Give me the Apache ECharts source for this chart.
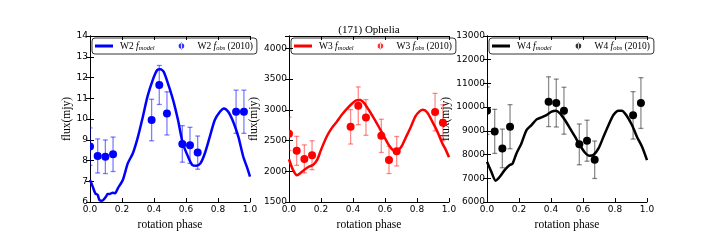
<!DOCTYPE html>
<html>
<head>
<meta charset="utf-8">
<script src="https://cdn.jsdelivr.net/npm/echarts@6/dist/echarts.min.js"></script>
<style>html,body{margin:0;padding:0;background:#fff}#c{width:720px;height:240px}</style>
</head>
<body>
<div id="c"></div>
<script>
// ---- data ----
const obsPhase = [0.0, 0.048, 0.096, 0.144, 0.385, 0.433, 0.481, 0.577, 0.625, 0.673, 0.913, 0.962];
const w2Obs = [8.67, 8.22, 8.18, 8.30, 9.95, 11.64, 10.27, 8.80, 8.73, 8.38, 10.35, 10.35];
const w2Err = [0.90, 0.82, 0.81, 0.83, 1.00, 0.94, 1.04, 0.88, 0.87, 0.80, 1.04, 1.04];
const w3Obs = [2609, 2332, 2201, 2261, 2723, 3065, 2875, 2576, 2185, 2326, 2962, 2788];
const w3Err = [270, 236, 228, 235, 280, 307, 290, 270, 222, 240, 305, 293];
const w4Obs = [9850, 8978, 8260, 9175, 10230, 10173, 9850, 8430, 8584, 7782, 9653, 10173];
const w4Err = [1000, 930, 815, 930, 1050, 1010, 990, 860, 865, 790, 1000, 1070];

const w2ModelX = [0, 0.017, 0.033, 0.048, 0.059, 0.075, 0.1, 0.11, 0.125, 0.142, 0.157, 0.174, 0.205, 0.236, 0.268, 0.3, 0.33, 0.36, 0.393, 0.42, 0.44, 0.46, 0.487, 0.52, 0.55, 0.58, 0.613, 0.64, 0.665, 0.69, 0.718, 0.749, 0.78, 0.812, 0.837, 0.864, 0.895, 0.927, 0.958, 0.98, 1.0];
const w2ModelY = [7.06, 6.74, 6.42, 6.34, 6.10, 6.06, 6.26, 6.39, 6.39, 6.45, 6.42, 6.66, 7.06, 7.86, 8.35, 9.15, 10.1, 11.1, 11.9, 12.36, 12.4, 12.28, 11.72, 10.9, 9.95, 8.83, 8.18, 7.78, 7.75, 7.86, 8.35, 9.15, 9.95, 10.35, 10.51, 10.35, 9.87, 9.15, 8.18, 7.7, 7.22];

const w3ModelX = [0, 0.025, 0.05, 0.075, 0.1, 0.125, 0.15, 0.176, 0.2, 0.236, 0.267, 0.3, 0.33, 0.36, 0.393, 0.42, 0.445, 0.47, 0.498, 0.53, 0.56, 0.592, 0.623, 0.648, 0.676, 0.703, 0.728, 0.76, 0.79, 0.816, 0.837, 0.864, 0.895, 0.927, 0.958, 0.98, 1.0];
const w3ModelY = [2195, 2022, 1935, 1978, 2033, 2076, 2103, 2185, 2348, 2565, 2701, 2810, 2918, 3010, 3098, 3152, 3160, 3109, 3000, 2864, 2728, 2576, 2429, 2348, 2337, 2402, 2538, 2712, 2891, 2973, 3000, 2957, 2810, 2647, 2457, 2348, 2228];

const w4ModelX = [0, 0.027, 0.054, 0.08, 0.11, 0.142, 0.16, 0.184, 0.215, 0.247, 0.278, 0.31, 0.34, 0.372, 0.404, 0.43, 0.456, 0.487, 0.519, 0.55, 0.58, 0.613, 0.64, 0.665, 0.697, 0.728, 0.76, 0.79, 0.822, 0.843, 0.87, 0.906, 0.937, 0.969, 1.0];
const w4ModelY = [7698, 7276, 6900, 7065, 7346, 7557, 7620, 8049, 8471, 9034, 9245, 9484, 9568, 9667, 9807, 9850, 9737, 9456, 9104, 8752, 8401, 8077, 7950, 7979, 8260, 8752, 9245, 9667, 9850, 9850, 9667, 9245, 8752, 8330, 7768];

const xTicks = [0.0, 0.2, 0.4, 0.6, 0.8, 1.0];
const w2YTicks = [6, 14, 1];
const w3YTicks = [1500, 4200, 500];
const w4YTicks = [6000, 13000, 1000];
const title = '(171) Ophelia';

// ---- chart ----
const zip = (a, b) => a.map((v, i) => [v, b[i]]);
const zip3 = (a, b, c) => a.map((v, i) => [v, b[i], c[i]]);
const SERIF = '"Liberation Serif", "DejaVu Serif", serif';
const SANS = '"DejaVu Sans", sans-serif';

const panels = [
  {band: 'W2', color: '#0000ff', bar: 'rgba(0,0,255,0.5)', mx: w2ModelX, my: w2ModelY, obs: w2Obs, err: w2Err, yt: w2YTicks, left: 90, nameGap: 16},
  {band: 'W3', color: '#ff0000', bar: 'rgba(255,0,0,0.45)', mx: w3ModelX, my: w3ModelY, obs: w3Obs, err: w3Err, yt: w3YTicks, left: 289, nameGap: 10},
  {band: 'W4', color: '#000000', bar: 'rgba(0,0,0,0.45)', mx: w4ModelX, my: w4ModelY, obs: w4Obs, err: w4Err, yt: w4YTicks, left: 487, nameGap: 28}
];

const grids = [], xAxes = [], yAxes = [], series = [], legends = [];
const tickStyle = {show: true, inside: true, length: 4, lineStyle: {color: '#000', width: 1}};
const lineStyle = {show: true, lineStyle: {color: '#000', width: 1}};
const legendRich = {
  t: {fontFamily: SERIF, fontSize: 9.5, color: '#000'},
  i: {fontFamily: SERIF, fontSize: 9.5, fontStyle: 'italic', color: '#000'},
  s: {fontFamily: SERIF, fontSize: 6.5, fontStyle: 'italic', color: '#000', padding: [5, 0, 0, 0]}
};

panels.forEach((p, k) => {
  grids.push({left: p.left, top: 36, width: 160, height: 166, containLabel: false});
  xAxes.push({
    gridIndex: k, type: 'value', min: 0, max: 1, interval: 0.2, position: 'bottom',
    axisLine: lineStyle, axisTick: tickStyle, splitLine: {show: false},
    axisLabel: {fontFamily: SANS, fontSize: 9, color: '#000', margin: 3, formatter: v => v.toFixed(1)},
    name: 'rotation phase', nameLocation: 'middle', nameGap: 14,
    nameTextStyle: {fontFamily: SERIF, fontSize: 11.5, color: '#000'}
  });
  xAxes.push({
    gridIndex: k, type: 'value', min: 0, max: 1, interval: 0.2, position: 'top',
    axisLine: lineStyle, axisTick: tickStyle, axisLabel: {show: false}, splitLine: {show: false}
  });
  const hideMax = (p.yt[1] - p.yt[0]) % p.yt[2] !== 0;
  yAxes.push({
    gridIndex: k, type: 'value', min: p.yt[0], max: p.yt[1], interval: p.yt[2], position: 'left',
    axisLine: lineStyle, axisTick: tickStyle, splitLine: {show: false},
    axisLabel: {fontFamily: SANS, fontSize: 9, color: '#000', margin: 2, showMaxLabel: !hideMax,
      formatter: v => String(v)},
    name: 'flux(mjy)', nameLocation: 'middle', nameGap: p.nameGap, nameRotate: 90,
    nameTextStyle: {fontFamily: SERIF, fontSize: 11.5, color: '#000'}
  });
  yAxes.push({
    gridIndex: k, type: 'value', min: p.yt[0], max: p.yt[1], interval: p.yt[2], position: 'right',
    axisLine: lineStyle, axisTick: tickStyle, axisLabel: {show: false}, splitLine: {show: false}
  });
  const modelName = p.band + ' model';
  const obsName = p.band + ' obs';
  series.push({
    name: modelName, type: 'line', xAxisIndex: 2 * k, yAxisIndex: 2 * k,
    data: zip(p.mx, p.my), showSymbol: false, symbol: 'none', smooth: 0.25,
    lineStyle: {color: p.color, width: 2.5}, itemStyle: {color: p.color}, clip: true, z: 3
  });
  const barColor = p.bar, col = p.color;
  series.push({
    name: p.band + ' err', type: 'custom', xAxisIndex: 2 * k, yAxisIndex: 2 * k,
    data: zip3(obsPhase, p.obs, p.err), encode: {x: 0, y: 1}, clip: true, z: 4,
    renderItem: (params, api) => {
      const x = api.value(0), y = api.value(1), e = api.value(2);
      const a = api.coord([x, y + e]), b = api.coord([x, y - e]);
      const cw = 2.5;
      const st = {stroke: barColor, lineWidth: 1.3};
      return {type: 'group', children: [
        {type: 'line', shape: {x1: a[0], y1: a[1], x2: b[0], y2: b[1]}, style: st},
        {type: 'line', shape: {x1: a[0] - cw, y1: a[1], x2: a[0] + cw, y2: a[1]}, style: st},
        {type: 'line', shape: {x1: b[0] - cw, y1: b[1], x2: b[0] + cw, y2: b[1]}, style: st}
      ]};
    }
  });
  series.push({
    name: p.band + ' pts', type: 'custom', xAxisIndex: 2 * k, yAxisIndex: 2 * k,
    data: zip(obsPhase, p.obs), encode: {x: 0, y: 1}, clip: true, z: 5,
    renderItem: (params, api) => {
      const c = api.coord([api.value(0), api.value(1)]);
      return {type: 'circle', shape: {cx: c[0], cy: c[1], r: 4}, style: {fill: col}};
    }
  });
  // legend-only entry for observations
  series.push({
    name: obsName, type: 'scatter', xAxisIndex: 2 * k, yAxisIndex: 2 * k,
    data: [], itemStyle: {color: p.color}
  });
  const band = p.band;
  legends.push({
    left: p.left + 2, top: 38, width: 156, orient: 'horizontal',
    borderColor: '#000', borderWidth: 0.8, borderRadius: 3, padding: [3, 4, 2, 3],
    itemWidth: 18, itemHeight: 7, itemGap: 24, selectedMode: false,
    data: [
      {name: modelName, icon: 'path://M0,0h60v10h-60z', itemStyle: {color: p.color}},
      {name: obsName, icon: 'path://M4.4,0h1.2v10h-1.2z M1,5a4,4 0 1,0 8,0a4,4 0 1,0 -8,0z', itemStyle: {color: p.color}}
    ],
    formatter: n => n.endsWith('model')
      ? '{t|' + band + ' }{i|f}{s|model}'
      : '{t|' + band + ' }{i|f}{s|obs}{t| (2010)}',
    textStyle: {rich: legendRich, padding: [0, 0, 0, 2]}
  });
});

const chart = echarts.init(document.getElementById('c'), null, {renderer: 'canvas'});
chart.setOption({
  animation: false,
  backgroundColor: '#fff',
  title: {text: title, left: 364, top: 20, textAlign: 'center',
    textStyle: {fontFamily: SERIF, fontSize: 11, fontWeight: 'normal', color: '#000'}},
  legend: legends,
  grid: grids, xAxis: xAxes, yAxis: yAxes, series: series
});
</script>
</body>
</html>
